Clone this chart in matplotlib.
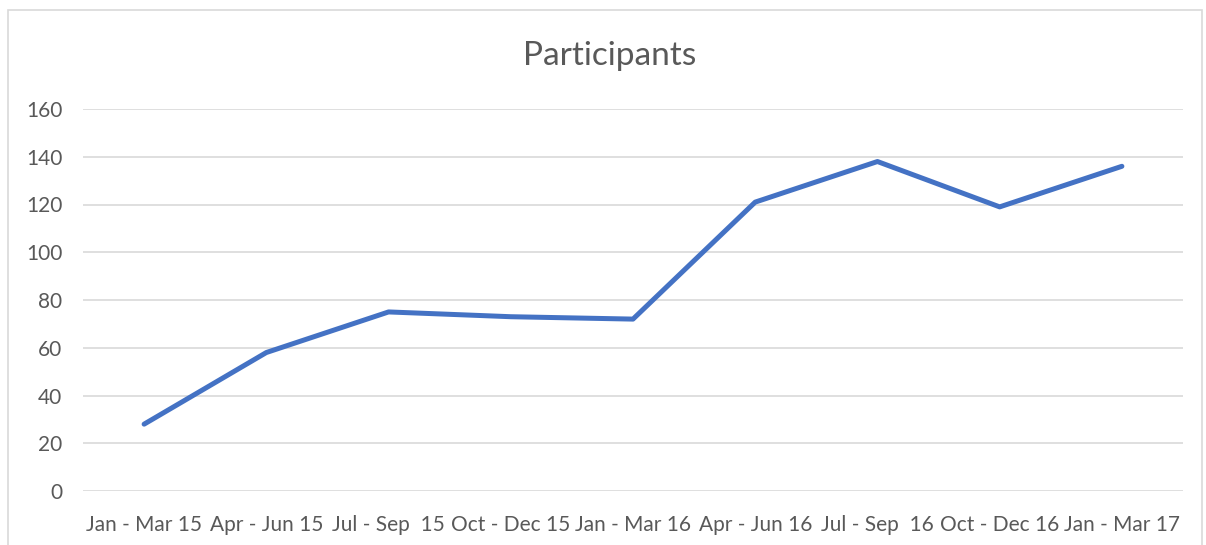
import matplotlib
matplotlib.use("Agg")
import matplotlib.pyplot as plt
from matplotlib.patches import Rectangle

quarters = ["Jan - Mar 15", "Apr - Jun 15", "Jul - Sep  15", "Oct - Dec 15",
            "Jan - Mar 16", "Apr - Jun 16", "Jul - Sep  16", "Oct - Dec 16",
            "Jan - Mar 17"]
participants = [28, 58, 75, 73, 72, 121, 138, 119, 136]
y_ticks = [0, 20, 40, 60, 80, 100, 120, 140, 160]

text_color = "#595959"
grid_color = "#D9D9D9"
line_color = "#4472C4"

plt.rcParams["font.family"] = ["Lato", "DejaVu Sans"]

fig = plt.figure(figsize=(12.06, 5.45), dpi=100)
fig.patch.set_facecolor("white")

# chart frame
fig.patches.append(Rectangle((8 / 1206, -0.05), 1194 / 1206, 1 - 10 / 545 + 0.05,
                             transform=fig.transFigure, fill=False,
                             edgecolor=grid_color, linewidth=1.2))

ax = fig.add_axes([83 / 1206, 1 - 491 / 545, 1100 / 1206, 382 / 545])
x = list(range(len(quarters)))
ax.plot(x, participants, color=line_color, linewidth=3.6,
        solid_capstyle="round", solid_joinstyle="round", zorder=3)

ax.set_xlim(-0.5, len(quarters) - 0.5)
ax.set_ylim(0, 160)
ax.set_yticks(y_ticks)
ax.set_xticks(x)
ax.set_xticklabels(quarters)
ax.grid(axis="y", color=grid_color, linewidth=1.2)
ax.set_axisbelow(True)
for s in ["top", "right", "left", "bottom"]:
    ax.spines[s].set_visible(False)
ax.tick_params(axis="both", length=0, colors=text_color, labelsize=15)
ax.tick_params(axis="y", pad=15)
ax.tick_params(axis="x", pad=17)

fig.text(610 / 1206, 1 - 56 / 545, "Participants", ha="center", va="center",
         fontsize=24, color=text_color)

fig.savefig("out.png", dpi=100)
